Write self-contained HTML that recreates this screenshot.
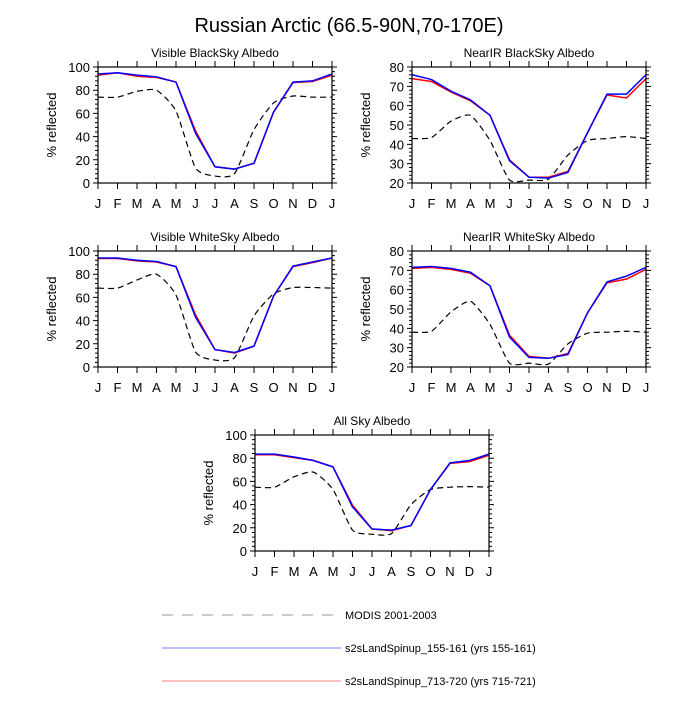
<!DOCTYPE html>
<html><head><meta charset="utf-8"><style>
html,body{margin:0;padding:0;background:#fff;}
svg text{font-family:"Liberation Sans",sans-serif;fill:#000;}
</style></head><body>
<svg id="chart" width="700" height="700" xmlns="http://www.w3.org/2000/svg">
<rect width="700" height="700" fill="#fff"/>
<text x="349" y="32" font-size="20" text-anchor="middle">Russian Arctic (66.5-90N,70-170E)</text>
<g>
<line x1="162" y1="615" x2="338" y2="615" stroke="#bbb" stroke-width="1.5" stroke-dasharray="11,9"/>
<text x="345" y="619" font-size="11">MODIS 2001-2003</text>
<line x1="162" y1="648" x2="341" y2="648" stroke="#8080ff" stroke-width="1"/>
<text x="345" y="652" font-size="11">s2sLandSpinup_155-161 (yrs 155-161)</text>
<line x1="162" y1="681" x2="341" y2="681" stroke="#ffaaaa" stroke-width="1.5"/>
<text x="345" y="685" font-size="11">s2sLandSpinup_713-720 (yrs 715-721)</text>
</g>
</svg>
<script>
const months = ["J","F","M","A","M","J","J","A","S","O","N","D","J"];
const titles = ["Visible BlackSky Albedo","NearIR BlackSky Albedo","Visible WhiteSky Albedo","NearIR WhiteSky Albedo","All Sky Albedo"];
const yMin = [0,20,0,20,0];
const yMax = [100,80,100,80,100];
const yStep = [20,10,20,10,20];
const blue1 = [94,95,93,91.5,87,43,14,12,17,61,87,88,94];
const red1 = [93,95,92,91,87,45,14,12,17,61,86.5,87.5,93];
const modis1 = [74,74,79,80,62,13,6,8,46,69,75,74,74];
const blue2 = [76,73.5,67.5,63,55,31.5,23,22.5,25.5,46,66,66,76];
const red2 = [74,72.5,67,62.5,55,32,23,23,26,46,65.5,64,74];
const modis2 = [43,43.5,52,55,42,21.5,21.5,22,34.5,42,43,44,43];
const blue3 = [94,94,92,91,86.5,43,15,12.5,18,61,87,90.5,94];
const red3 = [93.5,93.5,91.5,90.5,86.5,45,15,12,18,61,86.5,90,94];
const modis3 = [68,68,75,80,62,13,6,8,44,63,68.5,68.5,68];
const blue4 = [71.5,72,71,69,62,35.5,25,24.5,26.5,48,64,67,71.5];
const red4 = [71,71.5,70.5,68.5,62,36.5,25.5,24.5,27,48,63.5,65.5,70.5];
const modis4 = [38,38.5,48.5,54,42,22,22,21.5,32,37.5,38,38.5,38];
const blue5 = [83.5,83.5,81,78,72.5,38,19,18,22,53,76,78,83.5];
const red5 = [83,83,80.5,78,72.5,39.5,19,17.5,22,53,75.5,77,82.5];
const modis5 = [55,55,64,68,53,18,14.5,15,40,53,55,55.5,55];
const blues=[blue1,blue2,blue3,blue4,blue5], reds=[red1,red2,red3,red4,red5], modises=[modis1,modis2,modis3,modis4,modis5];
const frames=[[98,67],[412,67],[98,251],[412,251],[255,435]];
const W=234,H=116;
const NS="http://www.w3.org/2000/svg";
const svg=document.getElementById('chart');
function mk(tag,attrs,parent){const e=document.createElementNS(NS,tag);for(const k in attrs)e.setAttribute(k,attrs[k]);parent.appendChild(e);return e;}
function smooth(pts){let d="M"+pts[0][0]+","+pts[0][1];for(let i=0;i<pts.length-1;i++){const p0=pts[Math.max(0,i-1)],p1=pts[i],p2=pts[i+1],p3=pts[Math.min(pts.length-1,i+2)];const t=0.3/3;d+=" C"+(p1[0]+(p2[0]-p0[0])*t)+","+(p1[1]+(p2[1]-p0[1])*t)+" "+(p2[0]-(p3[0]-p1[0])*t)+","+(p2[1]-(p3[1]-p1[1])*t)+" "+p2[0]+","+p2[1];}return d;}
for(let p=0;p<5;p++){
  const [x0,y0]=frames[p];
  const g=mk('g',{},svg);
  
  
  const xs=i=>x0+i*W/12;
  const ys=v=>y0+H-(v-yMin[p])/(yMax[p]-yMin[p])*H;
  const t=mk('text',{x:x0+W/2,y:y0-10,'font-size':12,'text-anchor':'middle'},g);t.textContent=titles[p];
  
  
  const yl=mk('text',{x:0,y:0,'font-size':13,'text-anchor':'middle',transform:`translate(${x0-42},${y0+H/2}) rotate(-90)`},g);yl.textContent="% reflected";
  
  
  let tk="";
  for(let v=yMin[p];v<=yMax[p];v+=yStep[p]/5){const y=ys(v);const major=Math.abs((v-yMin[p])%yStep[p])<1e-6;const L=major?5:3;tk+=`M${x0-L},${y}H${x0}M${x0+W},${y}H${x0+W+L}`;}
  for(let v=yMin[p];v<=yMax[p];v+=yStep[p]){const tx=mk('text',{x:x0-8,y:ys(v)+5,'font-size':13,'text-anchor':'end'},g);tx.textContent=v;
    
    }
  for(let i=0;i<13;i++){const x=xs(i);tk+=`M${x},${y0+H}V${y0+H+6}M${x},${y0}V${y0-6}`;
    const tx=mk('text',{x:x,y:y0+H+25,'font-size':13,'text-anchor':'middle'},g);tx.textContent=months[i];
    
    }
  const tp=mk('path',{d:tk,stroke:'#000','stroke-width':1,fill:'none'},g);
  
  
  const mp=mk('path',{d:smooth(modises[p].map((v,i)=>[xs(i),ys(v)])),stroke:'#000','stroke-width':1.2,fill:'none','stroke-dasharray':'6,4'},g);
  
  
  const rp=mk('polyline',{points:reds[p].map((v,i)=>xs(i)+","+ys(v)).join(" "),stroke:'#f00','stroke-width':1.5,fill:'none'},g);
  
  
  const bp=mk('polyline',{points:blues[p].map((v,i)=>xs(i)+","+ys(v)).join(" "),stroke:'#00f','stroke-width':1.5,fill:'none'},g);
  
  
  const fr=mk('rect',{x:x0,y:y0,width:W,height:H,fill:'none',stroke:'#000','stroke-width':1.2},g);
  
  
}
</script>
</body></html>
